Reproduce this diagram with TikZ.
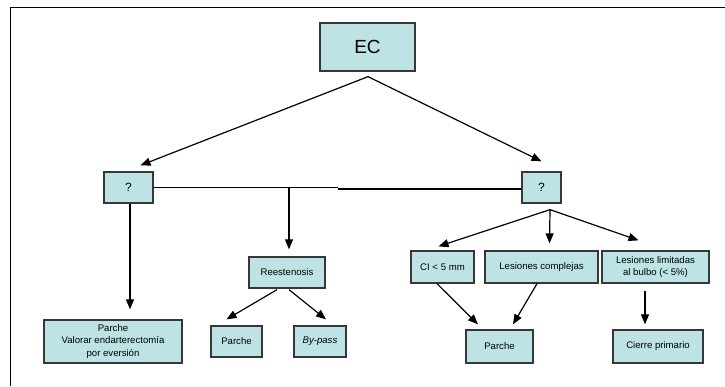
\documentclass[tikz,border=0pt]{standalone}
\usepackage{fontspec}
\setmainfont{Liberation Sans}
\usetikzlibrary{arrows.meta,shadows,calc}
\definecolor{boxfill}{RGB}{189,227,228}
\definecolor{boxline}{RGB}{55,55,55}
\begin{document}
\begin{tikzpicture}[x=1pt,y=-1pt,
  bx/.style={draw=boxline, line width=1.3pt, fill=boxfill, inner sep=0pt, align=center,
    font=\fontsize{9.6}{12.5}\selectfont,
    drop shadow={shadow xshift=1pt,shadow yshift=-1pt,opacity=0.35,fill=gray}},
  qbx/.style={bx, font=\fontsize{12}{14}\selectfont},
  arr/.style={line width=1.2pt, -{Triangle[length=10pt,width=8pt]}},
  ln/.style={line width=1.2pt}]
\useasboundingbox (0,0) rectangle (725,386);
\draw[line width=1pt] (10,386) -- (10,7) -- (725,7);

\node[bx, minimum width=95pt, minimum height=48pt, font=\fontsize{19}{21}\selectfont] (ec) at (367.5,47) {EC};
\node[qbx, minimum width=49pt, minimum height=31pt] (q1) at (128.5,187.5) {?};
\node[qbx, minimum width=39pt, minimum height=31pt] (q2) at (541.5,187.5) {?};
\node[bx, minimum width=138pt, minimum height=43pt] (val) at (113,341.5) {Parche\\Valorar endarterectomía\\por eversión};
\node[bx, minimum width=76pt, minimum height=31pt] (rees) at (287,272.5) {Reestenosis};
\node[bx, minimum width=51pt, minimum height=31pt] (p1) at (236.5,341.5) {Parche};
\node[bx, minimum width=52pt, minimum height=31pt] (bp) at (320,341.5) {\itshape By-pass};
\node[bx, minimum width=63pt, minimum height=32pt] (ci) at (442.5,267) {CI < 5 mm};
\node[bx, minimum width=113pt, minimum height=32pt] (lc) at (541.5,267) {Lesiones complejas};
\node[bx, minimum width=107pt, minimum height=32pt] (ll) at (655.5,267) {Lesiones limitadas\\al bulbo (< 5\%)};
\node[bx, minimum width=67pt, minimum height=33pt] (p2) at (499.5,346.5) {Parche};
\node[bx, minimum width=90pt, minimum height=33pt] (cp) at (658,346.5) {Cierre primario};

% EC to the two question boxes
\coordinate (eca) at ($(ec.south)+(0.5,5)$);
\draw[arr] (eca) -- ($(q1.north)+(12,-6)$);
\draw[arr] (eca) -- ($(q2.north)+(0,-10)$);

% horizontal link between question boxes
\coordinate (hm) at ($(q1.east)+(184,0)$);
\draw[ln] (q1.east) -- (hm);
\draw[ln] ($(hm)+(0,1.5)$) -- ($(q2.west)+(0,1.5)$);
\draw[arr] ($(rees.north |- q1.east)+(2,0)$) -- ($(rees.north)+(2,-7)$);

% left question box down
\draw[arr] ($(q1.south)+(1.5,0)$) -- ($(q1.south |- val.north)+(1.5,-10)$);

% Reestenosis
\draw[arr] ($(rees.south)+(-10,1)$) -- ($(p1.north)+(-10,-6)$);
\draw[arr] ($(rees.south)+(2,1)$) -- ($(bp.north)+(6,-6)$);

% right question box
\coordinate (qa) at ($(q2.south)+(8.5,6)$);
\draw[arr] (qa) -- ($(ci.north)+(-4,-4)$);
\draw[arr] (qa) -- ($(lc.north)+(8,-7)$);
\draw[arr] (qa) -- ($(ll.north)+(-17,-10)$);

\draw[arr] ($(ci.south)+(-5.5,0)$) -- ($(p2.north)+(-21.5,-5)$);
\draw[arr] ($(lc.south)+(-4.5,0)$) -- ($(p2.north)+(13.5,-5)$);
\draw[arr] ($(ll.south)+(-10.5,7)$) -- ($(cp.north)+(-13,-5)$);
\end{tikzpicture}
\end{document}
